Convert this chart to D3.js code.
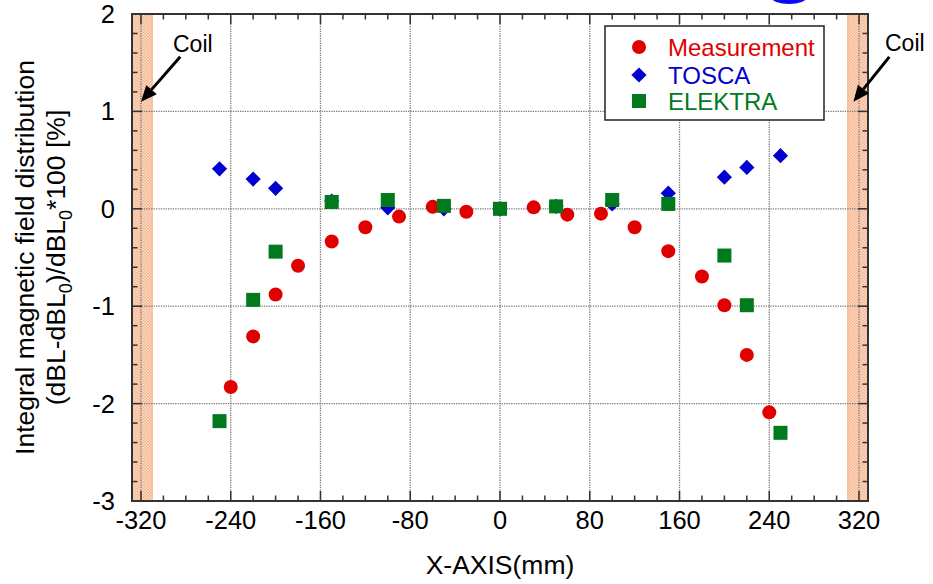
<!DOCTYPE html>
<html><head><meta charset="utf-8">
<script src="https://cdn.jsdelivr.net/npm/d3@7"></script>
<style>
html,body{margin:0;padding:0;background:#fff;}
svg{display:block;font-family:"Liberation Sans",Arial,sans-serif;}
</style></head>
<body><svg id="chart" width="933" height="584"></svg>
<script>
// ---- data ----
const measX = [-240,-220,-200,-180,-150,-120,-90,-60,-30,0,30,60,90,120,150,180,200,220,240];
const measY = [-1.83,-1.31,-0.88,-0.585,-0.335,-0.19,-0.08,0.02,-0.03,0,0.015,-0.06,-0.05,-0.19,-0.435,-0.695,-0.99,-1.5,-2.09];
const toscaX = [-250,-220,-200,-150,-100,-50,0,50,100,150,200,220,250];
const toscaY = [0.41,0.305,0.21,0.08,0.01,0,0,0.025,0.05,0.16,0.325,0.425,0.545];
const elekX = [-250,-220,-200,-150,-100,-50,0,50,100,150,200,220,250];
const elekY = [-2.18,-0.935,-0.44,0.07,0.09,0.03,0,0.025,0.09,0.05,-0.48,-0.99,-2.30];
const xTicks = [-320,-240,-160,-80,0,80,160,240,320];
const yTicks = [-3,-2,-1,0,1,2];
const seriesNames = ["Measurement","TOSCA","ELEKTRA"];
const seriesColors = ["#e00000","#0000d0","#007a1c"];
const coilBands = [[-328,-310],[310,328]];

const svg = d3.select("#chart");
const x = d3.scaleLinear().domain([-328,328]).range([132,868]);
const y = d3.scaleLinear().domain([-3,2]).range([501,14]);

// decorative blue shape cut at top
svg.append("ellipse").attr("cx",789).attr("cy",-3).attr("rx",18).attr("ry",7).attr("fill","#0a0af0");

// coil pattern
const defs = svg.append("defs");
const pat = defs.append("pattern").attr("id","hatch").attr("width",3).attr("height",3).attr("patternUnits","userSpaceOnUse");
pat.append("rect").attr("width",3).attr("height",3).attr("fill","#fcdcc8");
pat.append("rect").attr("width",1.5).attr("height",1.5).attr("fill","#f5b48c");
pat.append("rect").attr("x",1.5).attr("y",1.5).attr("width",1.5).attr("height",1.5).attr("fill","#f5b48c");

svg.selectAll("rect.coil").data(coilBands).join("rect").attr("class","coil")
  .attr("x",d=>x(d[0])).attr("width",d=>x(d[1])-x(d[0]))
  .attr("y",y(2)).attr("height",y(-3)-y(2))
  .attr("fill","url(#hatch)").attr("stroke","#f2a070").attr("stroke-width",0.8);

// grid
const grid = svg.append("g").attr("stroke","#7a7a7a").attr("stroke-width",1.3).attr("stroke-dasharray","1.3,1.1");
grid.selectAll("line.gx").data(xTicks).join("line").attr("x1",d=>x(d)).attr("x2",d=>x(d)).attr("y1",y(2)).attr("y2",y(-3));
grid.selectAll("line.gy").data(yTicks.filter(d=>d>-3&&d<2)).join("line").attr("y1",d=>y(d)).attr("y2",d=>y(d)).attr("x1",x(-328)).attr("x2",x(328));

// axes ticks (inward, all 4 sides)
const xMinor = d3.range(-320,321,20);
const yMinor = d3.range(-3,2.001,0.2).map(v=>+v.toFixed(2));
const tk = svg.append("g").attr("stroke","#333").attr("stroke-width",1.5);
function isMajorX(v){return xTicks.includes(v);}
function isMajorY(v){return yTicks.some(t=>Math.abs(t-v)<1e-6);}
xMinor.forEach(v=>{
  const L = isMajorX(v)?10:5.5;
  tk.append("line").attr("x1",x(v)).attr("x2",x(v)).attr("y1",y(-3)).attr("y2",y(-3)-L);
  tk.append("line").attr("x1",x(v)).attr("x2",x(v)).attr("y1",y(2)).attr("y2",y(2)+L);
});
yMinor.forEach(v=>{
  const L = isMajorY(v)?10:5.5;
  tk.append("line").attr("y1",y(v)).attr("y2",y(v)).attr("x1",x(-328)).attr("x2",x(-328)+L);
  tk.append("line").attr("y1",y(v)).attr("y2",y(v)).attr("x1",x(328)).attr("x2",x(328)-L);
});
svg.append("rect").attr("x",x(-328)).attr("y",y(2)).attr("width",x(328)-x(-328)).attr("height",y(-3)-y(2))
  .attr("fill","none").attr("stroke","#333").attr("stroke-width",2);

// tick labels
svg.append("g").selectAll("text").data(xTicks).join("text")
  .attr("x",d=>x(d)).attr("y",529).attr("text-anchor","middle").attr("font-size",25.5).attr("fill","#000").text(d=>d);
svg.append("g").selectAll("text").data(yTicks).join("text")
  .attr("x",115).attr("y",d=>y(d)+9).attr("text-anchor","end").attr("font-size",25.5).attr("fill","#000").text(d=>d);

// axis titles
svg.append("text").attr("x",500).attr("y",574).attr("text-anchor","middle").attr("font-size",26.5).text("X-AXIS(mm)");
const yt = svg.append("g").attr("transform",`translate(0,${(y(2)+y(-3))/2}) rotate(-90)`);
yt.append("text").attr("x",0).attr("y",34).attr("text-anchor","middle").attr("font-size",26.5).text("Integral magnetic field distribution");
const l2 = yt.append("text").attr("x",0).attr("y",65).attr("text-anchor","middle").attr("font-size",26.5);
l2.append("tspan").text("(dBL-dBL");
l2.append("tspan").attr("font-size",18).attr("dy",7).text("0");
l2.append("tspan").attr("dy",-7).text(")/dBL");
l2.append("tspan").attr("font-size",18).attr("dy",7).text("0");
l2.append("tspan").attr("dy",-7).text("*100 [%]");

// data marks
const plot = svg.append("g");
const meas = measX.map((v,i)=>({x:v,y:measY[i]}));
const tosca = toscaX.map((v,i)=>({x:v,y:toscaY[i]}));
const elek = elekX.map((v,i)=>({x:v,y:elekY[i]}));
const dR = 7.6;
const diamondPath = `M0,${-dR}L${dR},0L0,${dR}L${-dR},0Z`;
plot.selectAll("circle.m").data(meas).join("circle").attr("class","m")
  .attr("cx",d=>x(d.x)).attr("cy",d=>y(d.y)).attr("r",7).attr("fill",seriesColors[0]);
plot.selectAll("path.t").data(tosca).join("path").attr("class","t")
  .attr("transform",d=>`translate(${x(d.x)},${y(d.y)})`).attr("d",diamondPath).attr("fill",seriesColors[1]);
plot.selectAll("rect.e").data(elek).join("rect").attr("class","e")
  .attr("x",d=>x(d.x)-7).attr("y",d=>y(d.y)-7).attr("width",14).attr("height",14).attr("fill",seriesColors[2]);

// coil annotations
const ann = [{tx:-285,ty:1.56,hx:-320,hy:1.1,lx:173,ly:52},{tx:347,ty:1.56,hx:315,hy:1.1,lx:885,ly:51}];
ann.forEach(a=>{
  const x1=x(a.tx), y1=y(a.ty), x2=x(a.hx), y2=y(a.hy);
  const ang = Math.atan2(y2-y1,x2-x1);
  const hl=16, hw=7;
  const bx = x2-hl*Math.cos(ang), by = y2-hl*Math.sin(ang);
  svg.append("line").attr("x1",x1).attr("y1",y1).attr("x2",bx).attr("y2",by)
    .attr("stroke","#000").attr("stroke-width",3);
  svg.append("path").attr("d",`M${x2},${y2}L${bx+hw*Math.sin(ang)},${by-hw*Math.cos(ang)}L${bx-hw*Math.sin(ang)},${by+hw*Math.cos(ang)}Z`).attr("fill","#000");
  svg.append("text").attr("x",a.lx).attr("y",a.ly).attr("font-size",23).text("Coil");
});

// legend
const lg = svg.append("g");
lg.append("rect").attr("x",605).attr("y",26).attr("width",219).attr("height",94).attr("fill","#fff").attr("stroke","#222").attr("stroke-width",1.5);
const rows = [47,75,101];
lg.append("circle").attr("cx",639).attr("cy",rows[0]).attr("r",7).attr("fill",seriesColors[0]);
lg.append("path").attr("transform",`translate(639,${rows[1]})`).attr("d",diamondPath).attr("fill",seriesColors[1]);
lg.append("rect").attr("x",632).attr("y",rows[2]-7).attr("width",14).attr("height",14).attr("fill",seriesColors[2]);
seriesNames.forEach((n,i)=>{
  lg.append("text").attr("x",668).attr("y",rows[i]+8.5).attr("font-size",24).attr("fill",seriesColors[i]).text(n);
});
</script></body></html>
